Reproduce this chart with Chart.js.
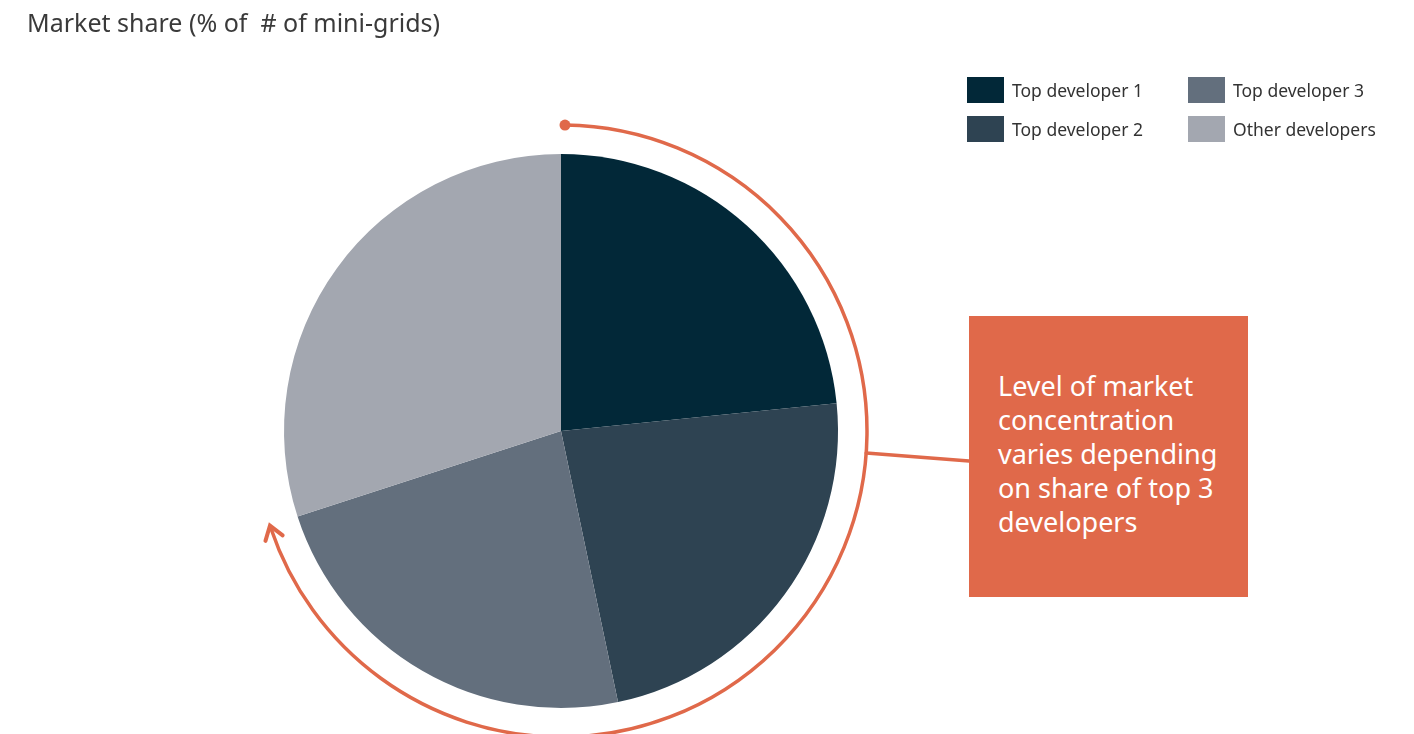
<!DOCTYPE html>
<html>
<head>
<meta charset="utf-8">
<script src="https://cdn.jsdelivr.net/npm/chart.js@4/dist/chart.umd.min.js"></script>
<style>
    body { margin: 0; background: #fff; font-family: "Noto Sans", sans-serif; }
    #wrap { position: relative; width: 1414px; height: 734px; }
    #chart { position: absolute; left: 0; top: 0; }
    #title { position: absolute; left: 27px; top: 5px; font-size: 25px; color: #3a3a3a; white-space: pre; }
    .leg { position: absolute; font-size: 17.5px; color: #333; line-height: 26px; }
    .leg span { display: inline-block; width: 37px; height: 26px; vertical-align: top; margin-right: 8px; }
    #note { position: absolute; left: 969px; top: 316px; width: 279px; height: 281px; background: #e0694a;
        color: #fff; font-size: 27px; line-height: 34px; box-sizing: border-box; padding: 53px 0 0 29px; white-space: nowrap; }
</style>
</head>
<body>
<div id="wrap">
    <canvas id="chart" width="1414" height="734"></canvas>
    <div id="title">Market share (% of  # of mini-grids)</div>
    <div id="legend"></div>
    <div id="note">Level of market<br>concentration<br>varies depending<br>on share of top 3<br>developers</div>
</div>
<script>
var labels = ["Top developer 1", "Top developer 2", "Top developer 3", "Other developers"];
var shares = [23.4, 23.3, 23.3, 30.0];
var colors = ["#022838", "#2e4352", "#636f7d", "#a3a7b0"];
var accent = "#e0694a";

// legend laid out in two columns
var legendPos = [[967, 77], [967, 116], [1188, 77], [1188, 116]];
for (var i = 0; i < labels.length; i++) {
    var d = document.createElement("div");
    d.className = "leg";
    d.style.left = legendPos[i][0] + "px";
    d.style.top = legendPos[i][1] + "px";
    d.innerHTML = "<span style=\"background:" + colors[i] + "\"></span>" + labels[i];
    document.getElementById("legend").appendChild(d);
}

// arc arrow round the top 3 slices, plus the line to the note box
var arcArrow = {
    id: "arcArrow",
    afterDraw: function (chart) {
        var ctx = chart.ctx;
        var arcs = chart.getDatasetMeta(0).data;
        var cx = arcs[0].x, cy = arcs[0].y;
        var r = arcs[0].outerRadius + 29;
        var a0 = arcs[0].startAngle + 0.013;
        var a1 = arcs[2].endAngle;
        ctx.save();
        ctx.strokeStyle = accent;
        ctx.fillStyle = accent;
        ctx.lineWidth = 3.5;
        ctx.lineCap = "round";
        ctx.beginPath();
        ctx.arc(cx, cy, r, a0, a1 - 0.01);
        ctx.stroke();
        // start dot
        ctx.beginPath();
        ctx.arc(cx + r * Math.cos(a0), cy + r * Math.sin(a0), 5.5, 0, Math.PI * 2);
        ctx.fill();
        // arrow head at the end, pointing along the clockwise tangent
        var ex = cx + r * Math.cos(a1), ey = cy + r * Math.sin(a1);
        var dir = a1 + Math.PI / 2;
        var len = 16, spread = 0.6;
        ctx.lineWidth = 4;
        ctx.beginPath();
        ctx.moveTo(ex - len * Math.cos(dir - spread), ey - len * Math.sin(dir - spread));
        ctx.lineTo(ex, ey);
        ctx.lineTo(ex - len * Math.cos(dir + spread), ey - len * Math.sin(dir + spread));
        ctx.stroke();
        // connector to the note box
        var ca = 0.072;
        ctx.lineWidth = 3.5;
        ctx.beginPath();
        ctx.moveTo(cx + r * Math.cos(ca), cy + r * Math.sin(ca));
        ctx.lineTo(969, 461);
        ctx.stroke();
        ctx.restore();
    }
};

var ctx = document.getElementById("chart").getContext("2d");
var myChart = new Chart(ctx, {
    type: "pie",
    data: {
        labels: labels,
        datasets: [{
            data: shares,
            backgroundColor: colors,
            borderWidth: 0
        }]
    },
    options: {
        responsive: false,
        animation: false,
        layout: { padding: { left: 284, right: 576, top: 154, bottom: 26 } },
        plugins: {
            legend: { display: false },
            tooltip: { enabled: false }
        }
    },
    plugins: [arcArrow]
});
</script>
</body>
</html>
